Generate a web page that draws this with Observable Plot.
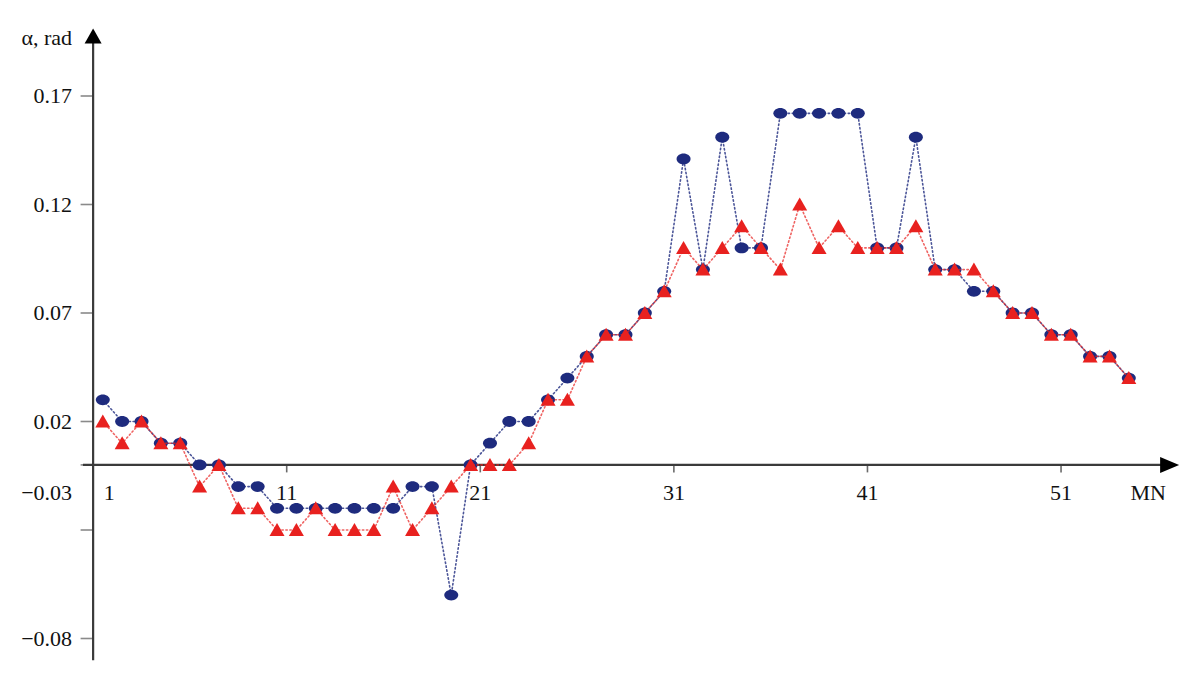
<!DOCTYPE html>
<html>
<head>
<meta charset="utf-8">
<script src="https://cdn.jsdelivr.net/npm/d3@7"></script>
<script src="https://cdn.jsdelivr.net/npm/@observablehq/plot@0.6"></script>
<style>
  html, body { margin: 0; padding: 0; background: #fff; }
  #chart svg { display: block; }
</style>
</head>
<body>
<div id="chart"></div>
<script>
// ---- data ----
const mnIndex = [1,2,3,4,5,6,7,8,9,10,11,12,13,14,15,16,17,18,19,20,21,22,23,24,25,26,27,
                 28,29,30,31,32,33,34,35,36,37,38,39,40,41,42,43,44,45,46,47,48,49,50,51,52,53,54];
const seriesBlue = [0.03,0.02,0.02,0.01,0.01,0,0,-0.01,-0.01,-0.02,-0.02,-0.02,-0.02,-0.02,-0.02,-0.02,
                    -0.01,-0.01,-0.06,0,0.01,0.02,0.02,0.03,0.04,0.05,0.06,0.06,0.07,0.08,0.141,0.09,0.151,
                    0.10,0.10,0.162,0.162,0.162,0.162,0.162,0.10,0.10,0.151,0.09,0.09,0.08,0.08,0.07,0.07,0.06,
                    0.06,0.05,0.05,0.04];
const seriesRed = [0.02,0.01,0.02,0.01,0.01,-0.01,0,-0.02,-0.02,-0.03,-0.03,-0.02,-0.03,-0.03,-0.03,-0.01,
                   -0.03,-0.02,-0.01,0,0,0,0.01,0.03,0.03,0.05,0.06,0.06,0.07,0.08,0.10,0.09,0.10,0.11,
                   0.10,0.09,0.12,0.10,0.11,0.10,0.10,0.10,0.11,0.09,0.09,0.09,0.08,0.07,0.07,0.06,0.06,
                   0.05,0.05,0.04];
const xTickLabels = ["1","11","21","31","41","51"];
const yTickValues = [0.17, 0.12, 0.07, 0.02, 0, -0.03, -0.08];
const yAxisTitle = "α, rad";
const xAxisTitle = "MN";

// ---- styling ----
const BLUE = "#1e2b7e";
const RED = "#e8211f";
const AXIS = "#3a3a3a";
const FONT_SIZE = 22;
const LABEL_DY = 19.6;

const rows = mnIndex.map((n, i) => ({n, blue: seriesBlue[i], red: seriesRed[i]}));
const fmt = v => (v < 0 ? "\u2212" : "") + Math.abs(v).toFixed(2);
const misplacedY = -0.03; // shown next to the x axis, as in the source figure

const ellipse = {draw(ctx) {
  const rx = 7, ry = 5.4, k = 0.5523;
  ctx.moveTo(rx, 0);
  ctx.bezierCurveTo(rx, ry * k, rx * k, ry, 0, ry);
  ctx.bezierCurveTo(-rx * k, ry, -rx, ry * k, -rx, 0);
  ctx.bezierCurveTo(-rx, -ry * k, -rx * k, -ry, 0, -ry);
  ctx.bezierCurveTo(rx * k, -ry, rx, -ry * k, rx, 0);
  ctx.closePath();
}};
const triangle = {draw(ctx) {
  ctx.moveTo(0, -7); ctx.lineTo(7.5, 6); ctx.lineTo(-7.5, 6); ctx.closePath();
}};
const arrowUp = {draw(ctx) {
  ctx.moveTo(0, 0); ctx.lineTo(8.5, 15); ctx.lineTo(-8.5, 15); ctx.closePath();
}};
const arrowRight = {draw(ctx) {
  ctx.moveTo(0, 0); ctx.lineTo(-19, -8); ctx.lineTo(-19, 8); ctx.closePath();
}};

const xTicks = xTickLabels.map(s => +s - 0.5);

const chart = Plot.plot({
  width: 1200,
  height: 676,
  marginLeft: 92.6,
  marginTop: 28,
  marginBottom: 211.6,
  marginRight: 20,
  x: {type: "linear", domain: [1, 54], range: [102.3, 1128.3], label: null},
  y: {type: "linear", domain: [-0.08, 0.17], range: [638, 95.5], label: null},
  style: {fontFamily: "'Liberation Serif', 'Times New Roman', serif", fontSize: FONT_SIZE + "px", color: "#111", background: "#fff"},
  marks: [
    // axes ticks and labels
    Plot.axisY({ticks: yTickValues, label: null, tickSize: 12, tickPadding: 9, stroke: "#8a8a8a", strokeWidth: 1.6,
      tickFormat: v => (v === 0 || v === misplacedY) ? "" : fmt(v), fill: "#111"}),
    Plot.axisX({ticks: xTicks, label: null, tickSize: 8, tickPadding: LABEL_DY - 8, stroke: "#6a6a6a", strokeWidth: 1.6,
      tickFormat: v => v === xTicks[0] ? "" : String(v + 0.5), fill: "#111"}),
    // axis lines
    Plot.ruleY([0], {x1: 0, x2: 55.7, stroke: AXIS, strokeWidth: 2.2}),
    Plot.ruleX([xTicks[0]], {y1: -0.0902, y2: 0.195, stroke: AXIS, strokeWidth: 2.2}),
    Plot.dot([0], {x: xTicks[0], y: 0.2011, symbol: arrowUp, fill: "#000", stroke: "none"}),
    Plot.dot([0], {x: 56.6, y: 0, symbol: arrowRight, fill: "#000", stroke: "none"}),
    // labels placed like the source
    Plot.text([fmt(misplacedY)], {y: 0, frameAnchor: "left", textAnchor: "end", dx: -21, dy: LABEL_DY, lineAnchor: "top", fill: "#111"}),
    Plot.text([xTickLabels[0]], {x: mnIndex[0], y: 0, dx: 6.5, dy: LABEL_DY, lineAnchor: "top", fill: "#111"}),
    Plot.text([xAxisTitle], {x: 55, y: 0, dy: LABEL_DY, lineAnchor: "top", fill: "#111"}),
    Plot.text([yAxisTitle], {frameAnchor: "top-left", textAnchor: "end", dx: -21, dy: 9, lineAnchor: "middle", fill: "#111"}),
    // series
    Plot.line(rows, {x: "n", y: "blue", stroke: BLUE, strokeWidth: 1.6, strokeDasharray: "1.4 2.6", strokeLinecap: "round", strokeOpacity: 0.8}),
    Plot.dot(rows, {x: "n", y: "blue", symbol: ellipse, fill: BLUE, stroke: "none"}),
    Plot.line(rows, {x: "n", y: "red", stroke: RED, strokeWidth: 1.6, strokeDasharray: "1.4 2.6", strokeLinecap: "round", strokeOpacity: 0.7}),
    Plot.dot(rows, {x: "n", y: "red", symbol: triangle, fill: RED, stroke: "none"})
  ]
});
document.getElementById("chart").appendChild(chart);
</script>
</body>
</html>
